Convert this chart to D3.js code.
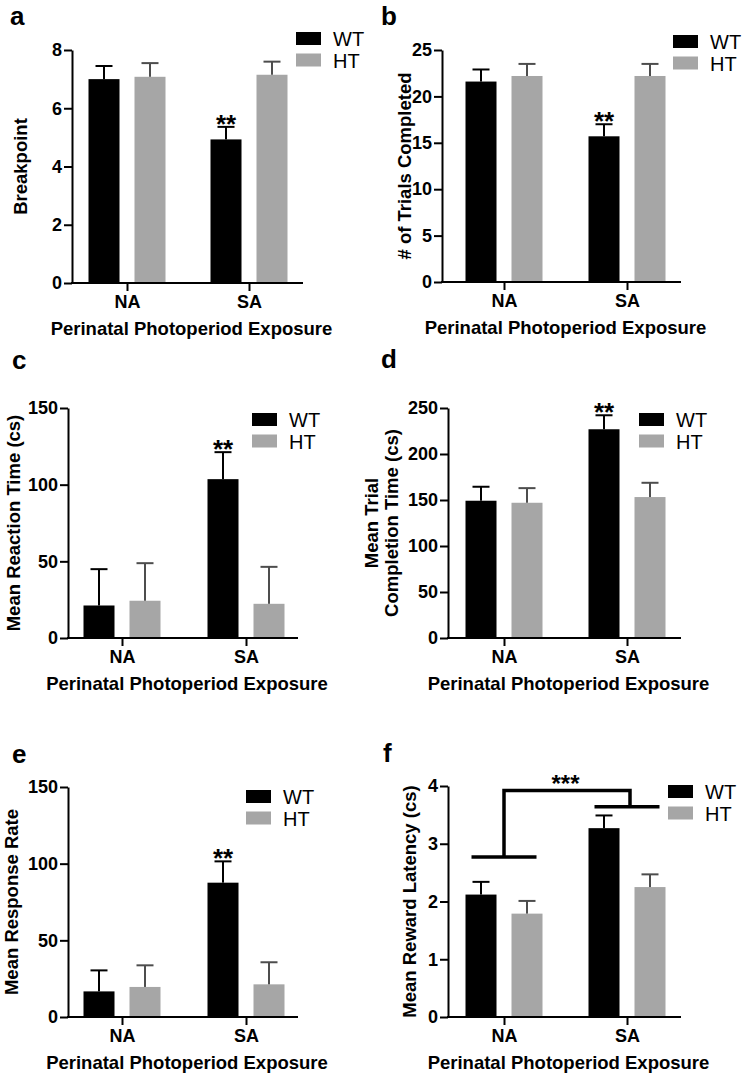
<!DOCTYPE html>
<html>
<head>
<meta charset="utf-8">
<script src="https://cdn.jsdelivr.net/npm/d3@7"></script>
<style>
  body { margin: 0; background: #fff; }
  svg text { font-family: "Liberation Sans", Arial, Helvetica, sans-serif; }
</style>
</head>
<body>
<div id="chartArea"></div>
<script>
// data setup
var groups = ["NA", "SA"];
var genotypes = ["WT", "HT"];
var xTitle = "Perinatal Photoperiod Exposure";

// a - breakpoint
var breakpointWT = [7.0, 4.93], breakpointWTErr = [0.45, 0.43];
var breakpointHT = [7.08, 7.15], breakpointHTErr = [0.47, 0.45];
var breakpointTicks = [0, 2, 4, 6, 8];

// b - trials completed
var trialsWT = [21.6, 15.7], trialsWTErr = [1.3, 1.3];
var trialsHT = [22.2, 22.2], trialsHTErr = [1.3, 1.3];
var trialsTicks = [0, 5, 10, 15, 20, 25];

// c - reaction time
var reactionWT = [21.2, 103.6], reactionWTErr = [23.7, 17.6];
var reactionHT = [24.3, 22.3], reactionHTErr = [24.5, 24.1];
var reactionTicks = [0, 50, 100, 150];

// d - trial completion time
var completionWT = [149.2, 226.9], completionWTErr = [15.2, 15.2];
var completionHT = [147.0, 153.2], completionHTErr = [15.9, 15.5];
var completionTicks = [0, 50, 100, 150, 200, 250];

// e - response rate
var responseWT = [16.7, 87.6], responseWTErr = [13.7, 13.9];
var responseHT = [19.6, 21.3], responseHTErr = [14.1, 14.4];
var responseTicks = [0, 50, 100, 150];

// f - reward latency
var latencyWT = [2.12, 3.27], latencyWTErr = [0.22, 0.22];
var latencyHT = [1.79, 2.25], latencyHTErr = [0.22, 0.22];
var latencyTicks = [0, 1, 2, 3, 4];
var latencyBracket = { NA: 2.77, SA: 3.64, top: 3.92 };

var colors = { WT: "#000000", HT: "#a6a6a6" };
var errColors = { WT: "#000000", HT: "#4d4d4d" };

var svg = d3.select("#chartArea").append("svg")
  .attr("width", 742)
  .attr("height", 1078);

// panel layout (pixel boxes), data comes from the arrays above
var panels = [
  { letter: "a", lx: 10, ly: 25, axisX: 72, xEnd: 303, yTop: 50, yBot: 283, cNA: 127, cSA: 249,
    wt: breakpointWT, wtErr: breakpointWTErr, ht: breakpointHT, htErr: breakpointHTErr,
    ticks: breakpointTicks, yTitle: ["Breakpoint"], titleX: [27], star: "SA",
    legX: 296, legY: 32 },
  { letter: "b", lx: 381, ly: 25, axisX: 442, xEnd: 681, yTop: 50, yBot: 282, cNA: 504, cSA: 627,
    wt: trialsWT, wtErr: trialsWTErr, ht: trialsHT, htErr: trialsHTErr,
    ticks: trialsTicks, yTitle: ["# of Trials Completed"], titleX: [411], star: "SA",
    legX: 673, legY: 35 },
  { letter: "c", lx: 12, ly: 369, axisX: 68, xEnd: 298, yTop: 408, yBot: 638, cNA: 122, cSA: 246,
    wt: reactionWT, wtErr: reactionWTErr, ht: reactionHT, htErr: reactionHTErr,
    ticks: reactionTicks, yTitle: ["Mean Reaction Time (cs)"], titleX: [20], star: "SA",
    legX: 252, legY: 413 },
  { letter: "d", lx: 381, ly: 368, axisX: 448, xEnd: 681, yTop: 408, yBot: 638, cNA: 504, cSA: 627,
    wt: completionWT, wtErr: completionWTErr, ht: completionHT, htErr: completionHTErr,
    ticks: completionTicks, yTitle: ["Mean Trial", "Completion Time (cs)"], titleX: [378, 398], star: "SA",
    legX: 639, legY: 413 },
  { letter: "e", lx: 12, ly: 763, axisX: 68, xEnd: 298, yTop: 787, yBot: 1017, cNA: 122, cSA: 246,
    wt: responseWT, wtErr: responseWTErr, ht: responseHT, htErr: responseHTErr,
    ticks: responseTicks, yTitle: ["Mean Response Rate"], titleX: [17.5], star: "SA",
    legX: 246, legY: 790 },
  { letter: "f", lx: 383, ly: 762, axisX: 448, xEnd: 681, yTop: 786, yBot: 1017, cNA: 504, cSA: 627,
    wt: latencyWT, wtErr: latencyWTErr, ht: latencyHT, htErr: latencyHTErr,
    ticks: latencyTicks, yTitle: ["Mean Reward Latency (cs)"], titleX: [416], star: null,
    bracket: latencyBracket, legX: 668, legY: 785 }
];

// offsets of the two bars inside a group
var xSub = d3.scaleBand().domain(genotypes).range([-38.5, 38.5]).paddingInner(0.326);

const drawPanel = (p) => {
  var g = svg.append("g");

  var y = d3.scaleLinear()
    .domain([0, d3.max(p.ticks)])
    .range([p.yBot, p.yTop]);

  var x = d3.scalePoint().domain(groups).range([p.cNA, p.cSA]);

  var rows = [];
  groups.forEach(function(grp, i) {
    rows.push({ group: grp, geno: "WT", value: p.wt[i], err: p.wtErr[i] });
    rows.push({ group: grp, geno: "HT", value: p.ht[i], err: p.htErr[i] });
  });

  // bars
  g.selectAll("rect.bar")
    .data(rows)
    .enter()
    .append("rect")
    .attr("class", "bar")
    .attr("x", (d) => x(d.group) + xSub(d.geno))
    .attr("y", (d) => y(d.value))
    .attr("width", xSub.bandwidth())
    .attr("height", (d) => y(0) - y(d.value))
    .attr("fill", (d) => colors[d.geno]);

  // error bars (upper only)
  var eb = g.selectAll("g.err")
    .data(rows)
    .enter()
    .append("g")
    .attr("class", "err")
    .attr("stroke", (d) => errColors[d.geno])
    .attr("stroke-width", 2);

  eb.append("line")
    .attr("x1", (d) => x(d.group) + xSub(d.geno) + xSub.bandwidth() / 2)
    .attr("x2", (d) => x(d.group) + xSub(d.geno) + xSub.bandwidth() / 2)
    .attr("y1", (d) => y(d.value))
    .attr("y2", (d) => y(d.value + d.err));

  eb.append("line")
    .attr("x1", (d) => x(d.group) + xSub(d.geno) + xSub.bandwidth() / 2 - 8.5)
    .attr("x2", (d) => x(d.group) + xSub(d.geno) + xSub.bandwidth() / 2 + 8.5)
    .attr("y1", (d) => y(d.value + d.err))
    .attr("y2", (d) => y(d.value + d.err));

  // significance stars
  if (p.star) {
    var sd = rows.filter((d) => d.group === p.star && d.geno === "WT")[0];
    g.append("text")
      .attr("x", x(sd.group) + xSub("WT") + xSub.bandwidth() / 2)
      .attr("y", y(sd.value + sd.err) + 6)
      .attr("text-anchor", "middle")
      .attr("font-size", 26)
      .attr("font-weight", "bold")
      .text("**");
  }

  // main effect bracket
  if (p.bracket) {
    var hw = 32.5;
    var bk = g.append("g")
      .attr("fill", "none")
      .attr("stroke", "#000")
      .attr("stroke-width", 3.5);
    bk.append("line")
      .attr("x1", x("NA") - hw).attr("x2", x("NA") + hw)
      .attr("y1", y(p.bracket.NA)).attr("y2", y(p.bracket.NA));
    bk.append("line")
      .attr("x1", x("SA") - hw).attr("x2", x("SA") + hw)
      .attr("y1", y(p.bracket.SA)).attr("y2", y(p.bracket.SA));
    bk.append("path")
      .attr("d", "M" + x("NA") + "," + y(p.bracket.NA) +
        "V" + y(p.bracket.top) + "H" + (x("SA") + 3) + "V" + y(p.bracket.SA));
    g.append("text")
      .attr("x", (x("NA") + x("SA")) / 2)
      .attr("y", y(p.bracket.top) + 1)
      .attr("text-anchor", "middle")
      .attr("font-size", 24)
      .attr("font-weight", "bold")
      .text("***");
  }

  // Y axis
  var yAxis = g.append("g")
    .attr("transform", "translate(" + p.axisX + ",0)")
    .call(d3.axisLeft(y).tickValues(p.ticks).tickFormat(d3.format("d"))
      .tickSize(8).tickSizeOuter(0).tickPadding(2));
  yAxis.attr("font-size", 18).attr("font-family", null);
  yAxis.select(".domain").attr("stroke-width", 2);
  yAxis.selectAll(".tick line").attr("stroke-width", 2);
  yAxis.selectAll(".tick text")
    .attr("font-weight", "bold")
    .attr("fill", "#000");

  // X axis
  g.append("line")
    .attr("x1", p.axisX - 1).attr("x2", p.xEnd)
    .attr("y1", p.yBot).attr("y2", p.yBot)
    .attr("stroke", "#000").attr("stroke-width", 2);
  var xAxis = g.append("g")
    .attr("transform", "translate(0," + p.yBot + ")")
    .call(d3.axisBottom(x).tickSize(8).tickPadding(4));
  xAxis.attr("font-size", 18).attr("font-family", null);
  xAxis.select(".domain").remove();
  xAxis.selectAll(".tick line").attr("stroke-width", 2);
  xAxis.selectAll(".tick text")
    .attr("font-weight", "bold")
    .attr("fill", "#000");

  // axis titles
  g.append("text")
    .attr("x", (p.axisX + p.xEnd) / 2 + 4)
    .attr("y", p.yBot + 52)
    .attr("text-anchor", "middle")
    .attr("font-size", 18.5)
    .attr("font-weight", "bold")
    .text(xTitle);

  p.yTitle.forEach(function(t, i) {
    var cy = (p.yTop + p.yBot) / 2;
    g.append("text")
      .attr("transform", "translate(" + p.titleX[i] + "," + cy + ") rotate(-90)")
      .attr("text-anchor", "middle")
      .attr("font-size", 18.5)
      .attr("font-weight", "bold")
      .text(t);
  });

  // legend
  var leg = g.selectAll("g.leg")
    .data(genotypes)
    .enter()
    .append("g")
    .attr("class", "leg")
    .attr("transform", (d, i) => "translate(" + p.legX + "," + (p.legY + i * 21.5) + ")");
  leg.append("rect")
    .attr("width", 25)
    .attr("height", 13)
    .attr("fill", (d) => colors[d]);
  leg.append("text")
    .attr("x", 37)
    .attr("y", 14)
    .attr("font-size", 20)
    .text((d) => d);

  // panel letter
  g.append("text")
    .attr("x", p.lx)
    .attr("y", p.ly)
    .attr("font-size", 26)
    .attr("font-weight", "bold")
    .text(p.letter);
};

panels.forEach(drawPanel);
</script>
</body>
</html>
